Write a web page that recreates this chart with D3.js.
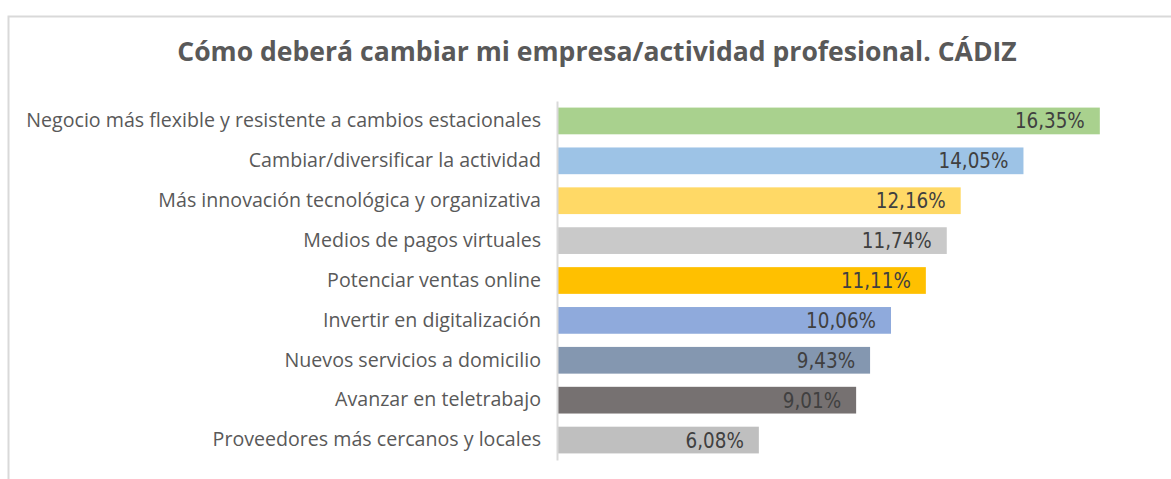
<!DOCTYPE html>
<html><head><meta charset="utf-8">
<script src="https://cdn.jsdelivr.net/npm/d3@7"></script>
<style>body{margin:0;background:#fff}svg{display:block}</style>
</head><body>
<script>
const categories = ["Negocio más flexible y resistente a cambios estacionales","Cambiar/diversificar la actividad","Más innovación tecnológica y organizativa","Medios de pagos virtuales","Potenciar ventas online","Invertir en digitalización","Nuevos servicios a domicilio","Avanzar en teletrabajo","Proveedores más cercanos y locales"];
const values = [16.35,14.05,12.16,11.74,11.11,10.06,9.43,9.01,6.08];
const colors = ["#A9D18E","#9DC3E6","#FFD966","#C9C9C9","#FFC000","#8FAADC","#8497B0","#767171","#BFBFBF"];
const title = "Cómo deberá cambiar mi empresa/actividad profesional. CÁDIZ";

const W=1171,H=479;
const svg=d3.select("body").append("svg").attr("width",W).attr("height",H);
svg.append("path").attr("d",`M8.5,${H} V16.5 H${W}`).attr("fill","none").attr("stroke","#d9d9d9").attr("stroke-width",2);

function fit(sel, target){
  const n=sel.node(); const fs=+sel.attr("font-size"); const w=n.getComputedTextLength();
  sel.attr("font-size", fs*target/w);
  return fs*target/w;
}

const t=svg.append("text").attr("x",597).attr("y",61).attr("text-anchor","middle")
  .attr("font-family","'Open Sans', sans-serif").attr("font-weight","bold").attr("font-size",22)
  .attr("fill","#595959").text(title);
fit(t,840);

const x=d3.scaleLinear().domain([0,18]).range([557,557+18*33.2]);
const y=d3.scaleBand().domain(categories).range([101,460]).paddingInner(0.33).paddingOuter(0.165);

svg.selectAll("rect.bar").data(values).join("rect").attr("class","bar")
  .attr("x",x(0)).attr("y",(d,i)=>y(categories[i])).attr("width",d=>x(d)-x(0)).attr("height",y.bandwidth())
  .attr("fill",(d,i)=>colors[i]);

const ax=d3.axisLeft(y).tickSize(0).tickPadding(16);
const g=svg.append("g").attr("transform",`translate(${x(0)},0)`).call(ax);
g.select(".domain").attr("stroke","#d9d9d9").attr("stroke-width",2);
g.selectAll("text").attr("font-family","'Open Sans', sans-serif").attr("font-size",17).attr("fill","#595959");
const first=g.selectAll("text").filter(d=>d===categories[0]);
const lfs=fit(first,515);
g.selectAll("text").attr("font-size",lfs);

const vals=svg.selectAll("text.val").data(values).join("text").attr("class","val")
  .attr("x",d=>x(d)-15).attr("y",(d,i)=>y(categories[i])+y.bandwidth()/2).attr("dy","0.37em")
  .attr("text-anchor","end").attr("font-family","'DejaVu Sans Condensed', 'Liberation Sans Narrow', sans-serif")
  .attr("font-size",19).attr("fill","#404040")
  .text(d=>d.toFixed(2).replace(".",",")+"%");
const vfs=fit(d3.select(vals.nodes()[0]),70);
vals.attr("font-size",vfs);
</script>
</body></html>
